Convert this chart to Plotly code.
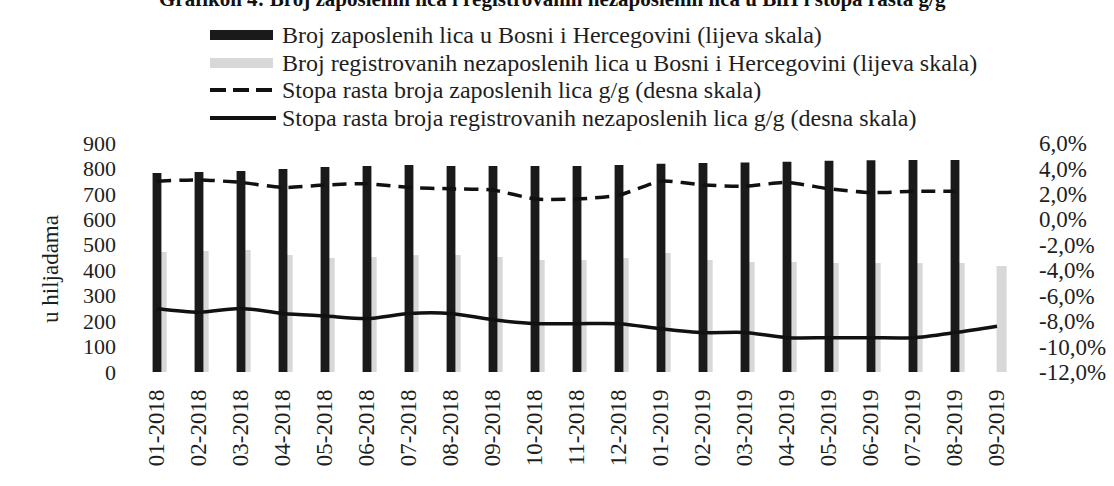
import plotly.graph_objects as go

months = ["01-2018", "02-2018", "03-2018", "04-2018", "05-2018", "06-2018", "07-2018",
          "08-2018", "09-2018", "10-2018", "11-2018", "12-2018", "01-2019", "02-2019",
          "03-2019", "04-2019", "05-2019", "06-2019", "07-2019", "08-2019", "09-2019"]

employed = [782, 786, 790, 798, 806, 810, 814, 810, 810, 810, 810, 814, 818, 821,
            823, 826, 830, 832, 833, 833, None]

unemployed = [472, 476, 479, 460, 448, 452, 460, 460, 452, 440, 440, 448, 468, 440,
              432, 432, 428, 428, 428, 428, 417]

growth_employed = [3.0, 3.1, 2.9, 2.5, 2.7, 2.8, 2.5, 2.4, 2.3, 1.6, 1.6, 1.9, 3.0, 2.7,
                   2.6, 2.9, 2.4, 2.1, 2.2, 2.2, None]

growth_unemployed = [-7.0, -7.3, -7.0, -7.4, -7.6, -7.8, -7.4, -7.4, -7.9, -8.2, -8.2, -8.2,
                     -8.6, -8.9, -8.9, -9.3, -9.3, -9.3, -9.3, -8.9, -8.4]

left_ticks = [0, 100, 200, 300, 400, 500, 600, 700, 800, 900]
right_ticks = [-12, -10, -8, -6, -4, -2, 0, 2, 4, 6]
right_ticktext = ["-12,0%", "-10,0%", "-8,0%", "-6,0%", "-4,0%", "-2,0%", "0,0%", "2,0%", "4,0%", "6,0%"]

series_names = [
    "Broj zaposlenih lica u Bosni i Hercegovini (lijeva skala)",
    "Broj registrovanih nezaposlenih lica u Bosni i Hercegovini (lijeva skala)",
    "Stopa rasta broja zaposlenih lica g/g (desna skala)",
    "Stopa rasta broja registrovanih nezaposlenih lica g/g (desna skala)",
]

FONT = "Liberation Serif"
TXT = "#1e1e1e"
BLACK = "#1a1a1a"
GRAY = "#d8d8d8"

W, H = 1114, 486
ML, MR, MT, MB = 136, 96, 143, 114
PW, PH = W - ML - MR, H - MT - MB


def px_x(px):
    return (px - ML) / PW


def px_y(py):
    return (H - MB - py) / PH


fig = go.Figure()

fig.add_trace(go.Bar(
    x=months, y=unemployed, name=series_names[1],
    marker=dict(color=GRAY, line=dict(width=0)),
    width=0.24, offset=-0.01, yaxis="y", showlegend=False,
))
fig.add_trace(go.Bar(
    x=months, y=employed, name=series_names[0],
    marker=dict(color=BLACK, line=dict(width=0)),
    width=0.21, offset=-0.105, yaxis="y", showlegend=False,
))
fig.add_trace(go.Scatter(
    x=months, y=growth_employed, mode="lines", name=series_names[2],
    line=dict(color="#111111", width=3.5, dash="14px,8px", shape="spline", smoothing=0.6),
    yaxis="y2", showlegend=False,
))
fig.add_trace(go.Scatter(
    x=months, y=growth_unemployed, mode="lines", name=series_names[3],
    line=dict(color="#111111", width=3.5, shape="spline", smoothing=0.8),
    yaxis="y2", showlegend=False,
))

fig.update_layout(
    width=W, height=H,
    margin=dict(l=ML, r=MR, t=MT, b=MB, autoexpand=False),
    paper_bgcolor="white", plot_bgcolor="white",
    barmode="overlay",
    font=dict(family=FONT, size=22, color=TXT),
    xaxis=dict(
        type="category", range=[-0.5, 20.5], showgrid=False, showline=False, zeroline=False,
        tickangle=-90, ticks="", ticklabelstandoff=12,
        tickfont=dict(size=23, family=FONT, color=TXT),
    ),
    yaxis=dict(
        range=[0, 900], tickvals=left_ticks, showgrid=False, showline=False, zeroline=False,
        ticks="", ticklabelstandoff=19, tickfont=dict(size=22, family=FONT, color=TXT),
    ),
    yaxis2=dict(
        range=[-12, 6], tickvals=right_ticks, ticktext=right_ticktext, overlaying="y",
        side="right", showgrid=False, showline=False, zeroline=False,
        ticks="", ticklabelstandoff=20, tickfont=dict(size=23, family=FONT, color=TXT),
    ),
    showlegend=False,
)

# Legend (symbols + text, matching the reference's wide legend layout)
legend_rows = [35, 63, 90, 118]
sym_x0, sym_x1, text_x = 210, 273, 280
fig.add_shape(type="rect", xref="paper", yref="paper",
              x0=px_x(sym_x0), x1=px_x(sym_x1), y0=px_y(legend_rows[0] - 5), y1=px_y(legend_rows[0] + 5),
              fillcolor=BLACK, line=dict(width=0))
fig.add_shape(type="rect", xref="paper", yref="paper",
              x0=px_x(sym_x0), x1=px_x(sym_x1), y0=px_y(legend_rows[1] - 5), y1=px_y(legend_rows[1] + 5),
              fillcolor=GRAY, line=dict(width=0))
fig.add_shape(type="line", xref="paper", yref="paper",
              x0=px_x(sym_x0), x1=px_x(sym_x1), y0=px_y(legend_rows[2]), y1=px_y(legend_rows[2]),
              line=dict(color="#111111", width=4, dash="16px,7px"))
fig.add_shape(type="line", xref="paper", yref="paper",
              x0=px_x(sym_x0), x1=px_x(sym_x1 + 3), y0=px_y(legend_rows[3]), y1=px_y(legend_rows[3]),
              line=dict(color="#111111", width=4))
for name, row in zip(series_names, legend_rows):
    fig.add_annotation(
        text=name, xref="paper", yref="paper", x=px_x(text_x), y=px_y(row),
        xanchor="left", yanchor="middle", showarrow=False,
        font=dict(size=24, family=FONT, color=TXT),
    )

fig.add_annotation(
    text="Grafikon 4: Broj zaposlenih lica i registrovanih nezaposlenih lica u BiH i stopa rasta g/g",
    xref="paper", yref="paper", x=px_x(552), y=px_y(-1), xanchor="center", yanchor="middle",
    showarrow=False, font=dict(size=21, family=FONT, color="#111111", weight="bold"),
)
fig.add_annotation(
    text="u hiljadama", textangle=-90,
    xref="paper", yref="paper", x=px_x(50), y=px_y(269), xanchor="center", yanchor="middle",
    showarrow=False, font=dict(size=23, family=FONT, color=TXT),
)

fig.write_html(
    "out.html",
    config={"displayModeBar": False},
    post_script="document.body.style.margin='0';document.body.style.padding='0';",
)
